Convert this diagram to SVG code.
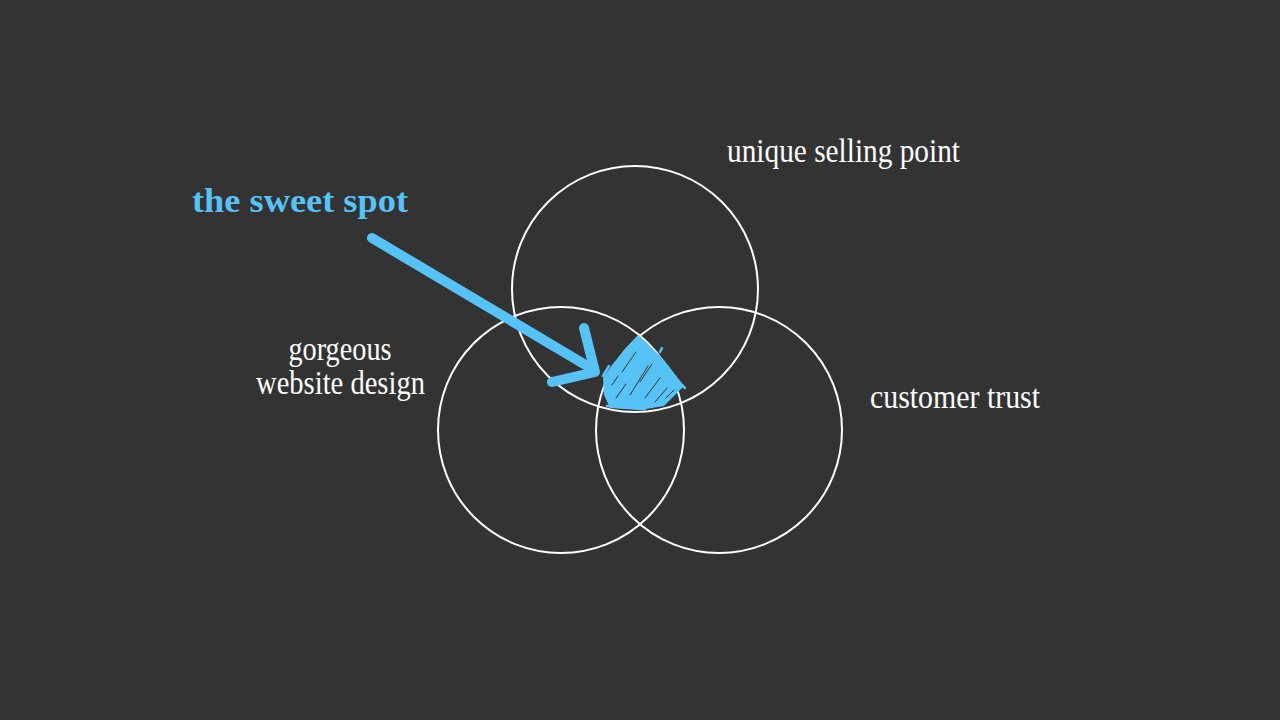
<svg xmlns="http://www.w3.org/2000/svg" width="1280" height="720" viewBox="0 0 1280 720">
<style>
.bg{fill:#333333}
.c{fill:none;stroke:#ffffff;stroke-width:2}
.lbl{font-family:"Liberation Serif","DejaVu Serif",serif;font-size:33px;fill:#ffffff}
.hl{font-family:"Liberation Serif","DejaVu Serif",serif;font-size:34px;font-weight:bold;fill:#56c2f5}
.blue{fill:none;stroke:#56c2f5;stroke-linecap:round;stroke-linejoin:round}
.gap{fill:none;stroke:#333333;stroke-width:1;stroke-linecap:round}
</style>
<rect class="bg" x="0" y="0" width="1280" height="720"/>
<g id="circle-usp"><circle class="c" cx="635" cy="289" r="123"/></g>
<g id="circle-design"><circle class="c" cx="561" cy="430" r="123"/></g>
<g id="circle-trust"><circle class="c" cx="719" cy="430" r="123"/></g>
<g id="sweet-spot-fill">
<polygon points="638,335 652,348 664,360 684,386 674,396 664,406 640,410 610,408 604,395 603,378 612,365 626,348" fill="#56c2f5"/>
<path class="blue" stroke-width="2.5" d="M685,388 L658,362 M660,352 L662,348 M603,376 L609,366 M607,406 L645,409"/>
<path class="gap" d="M622,372 L636,352 M630,395 L648,366 M616,398 L626,384 M645,398 L660,378 M655,402 L667,388 M612,385 L618,376 M640,382 L652,364 M666,398 L674,390"/>
</g>
<g id="labels">
<text class="lbl" x="727" y="162" textLength="233" lengthAdjust="spacingAndGlyphs">unique selling point</text>
<text class="lbl" x="340" y="360" text-anchor="middle" textLength="103" lengthAdjust="spacingAndGlyphs">gorgeous</text>
<text class="lbl" x="256" y="394" textLength="169" lengthAdjust="spacingAndGlyphs">website design</text>
<text class="lbl" x="870" y="408" textLength="170" lengthAdjust="spacingAndGlyphs">customer trust</text>
<text class="hl" x="192" y="212" textLength="216" lengthAdjust="spacingAndGlyphs">the sweet spot</text>
</g>
<g id="connectors">
<path class="blue" stroke-width="10" d="M372,238 L594,370"/>
<path class="blue" stroke-width="10" d="M584,328 L595,372 L552,382"/>
</g>
</svg>
